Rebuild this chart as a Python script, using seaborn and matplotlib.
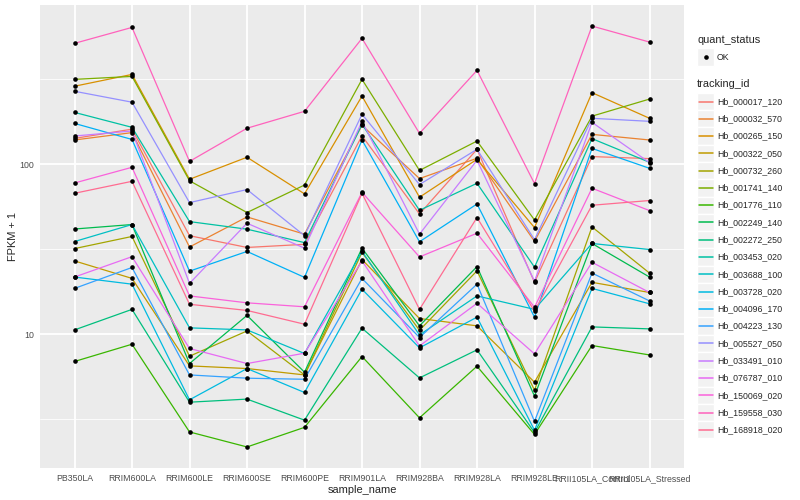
import matplotlib
matplotlib.use("Agg")
import matplotlib.pyplot as plt
from matplotlib.patches import Rectangle
import numpy as np
import pandas as pd
import seaborn as sns

# sample order as in the original factor levels
samples = [
    "PB350LA", "RRIM600LA", "RRIM600LE", "RRIM600SE", "RRIM600PE", "RRIM901LA",
    "RRIM928BA", "RRIM928LA", "RRIM928LE", "RRII105LA_Control", "RRII105LA_Stressed",
]

# FPKM per gene, one value per sample
hb_000017_120 = [141, 160, 37, 31.4, 32.8, 146, 50, 121.5, 19.2, 110, 107]
hb_000032_570 = [138, 152.6, 31.6, 48, 37.8, 168.6, 81.4, 107.5, 34.2, 149, 138]
hb_000265_150 = [287, 337, 80.6, 109, 66, 251, 63, 106, 41.4, 263, 185.5]
hb_000322_050 = [26, 20.3, 5.51, 5.28, 4.76, 26.5, 11.37, 10.2, 4.22, 19.2, 16.6]
hb_000732_260 = [30.9, 36.6, 6.42, 9.45, 4.76, 29.3, 9.55, 22.6, 3.68, 41.8, 21.9]
hb_001741_140 = [315, 328, 79, 51, 74.5, 315, 91, 136, 46, 191, 241]
hb_001776_110 = [5.91, 7.73, 1.66, 1.17, 1.83, 6.39, 2.22, 5.48, 1.57, 7.58, 6.55]
hb_002249_140 = [40.6, 43.2, 5.72, 11.9, 4.98, 31.1, 10.2, 24, 3.32, 33.2, 20.7]
hb_002272_250 = [9.6, 13, 2.98, 3.15, 2.12, 9.85, 4.53, 7.09, 1.64, 10.04, 9.75]
hb_003453_020 = [201, 164, 45, 40.5, 33.6, 171, 52.6, 76.3, 23.8, 140.6, 101.7]
hb_003688_100 = [34.1, 43.2, 9.9, 9.6, 6.7, 29.7, 8.9, 15.8, 13, 33.2, 30.5]
hb_003728_020 = [20.7, 18.7, 3.11, 5.28, 3.54, 17.4, 7.31, 11.6, 1.72, 17.6, 14.1]
hb_004096_170 = [173, 139, 22.5, 29.7, 20.6, 138, 34, 57.4, 11.6, 123, 93.7]
hb_004223_130 = [17.6, 23.7, 4.76, 4.51, 4.43, 20.3, 8.56, 18.7, 2.07, 21.9, 14.7]
hb_005527_050 = [268, 231, 58.5, 70, 37, 196, 75, 121.5, 35, 185.5, 178]
hb_033491_010 = [145.7, 156, 18.9, 44, 31.1, 178, 37.8, 104.6, 19.5, 175.6, 101.3]
hb_076787_010 = [20.7, 27.6, 7.24, 5.72, 6.73, 26, 7.53, 14.2, 6.66, 25.5, 16.6]
hb_150069_020 = [76.6, 95, 15.8, 14.3, 13.5, 67.4, 27.5, 38.3, 13.4, 71.3, 52.4]
hb_159558_030 = [514, 638, 103, 162, 204, 550, 151, 356, 76, 650, 523]
hb_168918_020 = [66.5, 78.4, 14, 12.8, 10.45, 66.5, 13, 47.6, 12.65, 56.4, 60.2]

tracking_ids = [
    "Hb_000017_120", "Hb_000032_570", "Hb_000265_150", "Hb_000322_050",
    "Hb_000732_260", "Hb_001741_140", "Hb_001776_110", "Hb_002249_140",
    "Hb_002272_250", "Hb_003453_020", "Hb_003688_100", "Hb_003728_020",
    "Hb_004096_170", "Hb_004223_130", "Hb_005527_050", "Hb_033491_010",
    "Hb_076787_010", "Hb_150069_020", "Hb_159558_030", "Hb_168918_020",
]
series = [
    hb_000017_120, hb_000032_570, hb_000265_150, hb_000322_050, hb_000732_260,
    hb_001741_140, hb_001776_110, hb_002249_140, hb_002272_250, hb_003453_020,
    hb_003688_100, hb_003728_020, hb_004096_170, hb_004223_130, hb_005527_050,
    hb_033491_010, hb_076787_010, hb_150069_020, hb_159558_030, hb_168918_020,
]

# ggplot2 default hue palette for 20 levels
gg_colors = [
    "#F8766D", "#EA8331", "#D89000", "#C09B00", "#A3A500", "#7CAE00", "#39B600",
    "#00BB4E", "#00BF7D", "#00C1A3", "#00BFC4", "#00BAE0", "#00B0F6", "#35A2FF",
    "#9590FF", "#C77CFF", "#E76BF3", "#FA62DB", "#FF62BC", "#FF6C91",
]

y_ticks = [10, 100]
y_minor = [10 ** 0.5, 10 ** 1.5, 10 ** 2.5]

rows = []
for tid, vals in zip(tracking_ids, series, strict=True):
    for s, v in zip(samples, vals, strict=True):
        rows.append({"tracking_id": tid, "sample_name": s, "fpkm": v, "quant_status": "OK"})
df = pd.DataFrame(rows)
df["pos"] = pd.Categorical(df["sample_name"], categories=samples).codes
df["fpkm1"] = df["fpkm"] + 1

sns.set_style("darkgrid", {"axes.facecolor": "#EBEBEB", "grid.color": "white"})
plt.rcParams["font.family"] = ["Liberation Sans", "DejaVu Sans"]

fig = plt.figure(figsize=(8, 5), dpi=100)
ax = fig.add_axes([40 / 800, 1 - 468 / 500, 644 / 800, 463 / 500])

sns.lineplot(
    data=df, x="pos", y="fpkm1", hue="tracking_id", hue_order=tracking_ids,
    palette=gg_colors, sort=False, estimator=None, linewidth=0.9, legend=False, ax=ax,
)
sns.scatterplot(
    data=df, x="pos", y="fpkm1", color="black", s=11, linewidth=0,
    legend=False, ax=ax, zorder=3,
)

ax.set_yscale("log")
lo, hi = np.log10(df["fpkm1"].min()), np.log10(df["fpkm1"].max())
pad = 0.05 * (hi - lo)
ax.set_ylim(10 ** (lo - pad), 10 ** (hi + pad))
ax.set_xlim(-0.6, len(samples) - 0.4)

ax.set_yticks(y_ticks)
ax.set_yticklabels([str(t) for t in y_ticks])
ax.set_yticks(y_minor, minor=True)
ax.set_xticks(range(len(samples)))
ax.set_xticklabels(samples)

ax.grid(which="major", color="white", linewidth=1.3)
ax.grid(which="minor", axis="y", color="white", linewidth=0.6)
ax.grid(which="minor", axis="x", visible=False)
for sp in ax.spines.values():
    sp.set_visible(False)
ax.tick_params(which="major", length=2.5, width=0.8, color="#333333",
               labelsize=6.3, labelcolor="#4D4D4D", pad=2)
ax.tick_params(which="minor", length=0)
ax.set_xlabel("sample_name", fontsize=7.9, labelpad=1)
ax.set_ylabel("FPKM + 1", fontsize=7.9, labelpad=1)

# legends, drawn in pixel units to the right of the panel
lax = fig.add_axes([684 / 800, 0, 116 / 800, 1])
lax.set_xlim(684, 800)
lax.set_ylim(500, 0)
lax.axis("off")
key_x, key_w = 697, 17.3
lax.text(key_x, 40, "quant_status", fontsize=7.9, va="center", ha="left")
lax.add_patch(Rectangle((key_x, 57 - key_w / 2), key_w, key_w, facecolor="#F2F2F2", edgecolor="white"))
lax.scatter([key_x + key_w / 2], [57], s=11, color="black", linewidth=0)
lax.text(key_x + key_w + 2.5, 57, "OK", fontsize=6.3, va="center", ha="left")

lax.text(key_x, 84, "tracking_id", fontsize=7.9, va="center", ha="left")
for i, (tid, col) in enumerate(zip(tracking_ids, gg_colors, strict=True)):
    yc = 101.5 + i * 17.28
    lax.add_patch(Rectangle((key_x, yc - key_w / 2), key_w, key_w, facecolor="#F2F2F2",
                            edgecolor="white", zorder=1))
    lax.plot([key_x + 1.7, key_x + key_w - 1.7], [yc, yc], color=col, linewidth=1.1, zorder=2)
    lax.text(key_x + key_w + 2.5, yc, tid, fontsize=6.3, va="center", ha="left")

fig.savefig("out.png", dpi=100)
